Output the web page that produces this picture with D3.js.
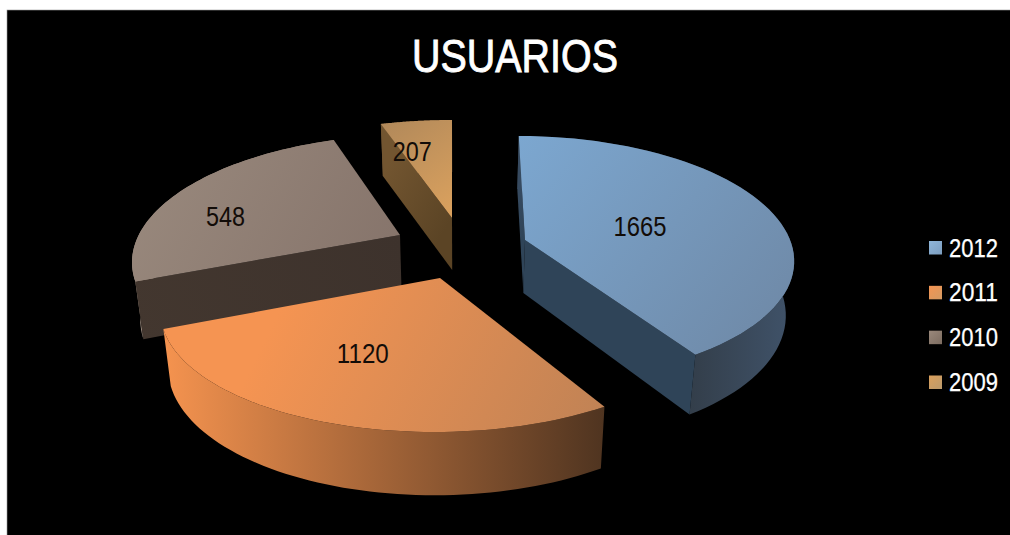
<!DOCTYPE html>
<html><head><meta charset="utf-8">
<script src="https://cdn.jsdelivr.net/npm/d3@7/dist/d3.min.js"></script>
<style>html,body{margin:0;padding:0;background:#fff}svg{display:block}text{font-family:"Liberation Sans",Arial,sans-serif}</style>
</head><body><svg id="c" width="1010" height="535"></svg>
<script>
// ---- data ----
const years = ["2012","2011","2010","2009"];
const users = [1665,1120,548,207];
const chartTitle = "USUARIOS";

// ---- style ----
const topColors  = [["#7ca7d0","#6e87a4"],["#f59452","#bf8255"],["#9a8a7e","#85736a"],["#b0885a","#dca25e"]];
const rimColors  = [["#333e4a","#40536a"],["#f5934f","#4f3420"],["#a39285","#8a7a6d"],["#6b5030","#6b5030"]];
const cutColors  = [["#2f4458","#364a60"],["#000","#000"],["#3d322c","#43372f"],["#5b4425","#725530"]];
const legendColors = [["#8fb6da","#7c9dbf"],["#f59452","#d49a62"],["#9a897c","#7c6c60"],["#dba05c","#bb9a6c"]];

// ---- projection of the tilted pie ----
const svg = d3.select("#c");
const W = 1010, H = 535;
const hub = [460,242], vanishX = 460, shrink = 0.975;
// per-slice view of the rim ellipse
const rxs = [268,278,268,288], rys = [122,122,122,129], cys = [18,32,22,31];
const skews = [0.06,-0.04,0,0], shears = [0,0,-0.02,0];
const explodeOffsets = [[65,-2],[-20,36],[-60,-7],[-8,-24]];
const baseDepth = [53,54,55,52], depthGain = 0.06;
const labelK = [0.45,0.6,0.72,0.7];
const labelNudge = [[-2,-8],[-16,-12],[-9,11],[-16,1]];
const labelWidth = [53,52,39,39];

const arcs = d3.pie().sort(null).value(d=>d)(users);
const boundaries = [0,...arcs.map(a=>a.endAngle)];
const viewDeg = [0,142.4,261,345.7,360];
const viewAngle = d3.scaleLinear().domain(boundaries).range(viewDeg.map(d=>d*Math.PI/180));
const ell = (phi,i) => {
  const x = rxs[i]*Math.sin(phi), y = cys[i]-rys[i]*Math.cos(phi);
  return [x+skews[i]*y, y+shears[i]*x];
};

svg.append("rect").attr("x",0).attr("y",0).attr("width",W).attr("height",H).attr("fill","#fff");
svg.append("rect").attr("x",7).attr("y",10).attr("width",W).attr("height",H).attr("fill","#000").attr("stroke","#999").attr("stroke-width",0.6);

const defs = svg.append("defs");
function grad(id,cols,x1,y1,x2,y2){
  const g = defs.append("linearGradient").attr("id",id).attr("gradientUnits","userSpaceOnUse")
    .attr("x1",x1).attr("y1",y1).attr("x2",x2).attr("y2",y2);
  g.append("stop").attr("offset",0).attr("stop-color",cols[0]);
  g.append("stop").attr("offset",1).attr("stop-color",cols[1]);
  return `url(#${id})`;
}
const line = d3.line();

const slices = arcs.map((a,i)=>{
  const p0 = viewAngle(a.startAngle), p1 = viewAngle(a.endAngle), pm = (p0+p1)/2;
  const apex = [hub[0]+explodeOffsets[i][0], hub[1]+explodeOffsets[i][1]];
  const rim = phi => { const e = ell(phi,i); return [apex[0]+e[0], apex[1]+e[1]]; };
  const low = p => [vanishX+(p[0]-vanishX)*shrink, p[1]+baseDepth[i]+depthGain*Math.max(0,p[1]-apex[1])];
  const rimPts = d3.range(61).map(k=>rim(p0+(p1-p0)*k/60));
  return {i,apex,rim,low,rimPts,pm};
});

// far slices first, nearest last
[3,2,0,1].forEach(i=>{
  const s = slices[i], g = svg.append("g");
  const xs = d3.extent(s.rimPts.concat([s.apex]),d=>d[0]);
  const ys = d3.extent(s.rimPts.concat([s.apex]),d=>d[1]);
  const lowPts = s.rimPts.map(s.low).reverse();
  g.append("path").attr("d",line(s.rimPts.concat(lowPts))+"Z")
    .attr("fill",grad("rim"+i,rimColors[i],i===0?690:xs[0],0,xs[1],0));
  const first = s.rimPts[0], last = s.rimPts[60];
  const addCut = (pt)=>{
    g.append("path").attr("d",line([s.apex,pt,s.low(pt),s.low(s.apex)])+"Z")
      .attr("fill",grad("cut"+i,cutColors[i],s.apex[0],s.apex[1],pt[0],s.low(pt)[1]));
  };
  if(first[0]-s.apex[0] < -1 && last[0]-s.apex[0] < 1) addCut(first);
  if(first[0]-s.apex[0] < 0 && last[0]-s.apex[0] > 1) { addCut(first); addCut(last); }
  const topStart = i===1 ? xs[0]+(xs[1]-xs[0])*0.3 : xs[0];
  g.append("path").attr("d",line([s.apex].concat(s.rimPts))+"Z")
    .attr("fill",grad("top"+i,topColors[i],topStart,ys[0],xs[1],ys[1]));
});

// value labels
slices.forEach(s=>{
  const e = [[260,-13],[-102,145],[-230,-41],[-34,-97]][s.i];
  const x = s.apex[0]+labelK[s.i]*e[0]+labelNudge[s.i][0], y = s.apex[1]+labelK[s.i]*e[1]+labelNudge[s.i][1];
  svg.append("text").attr("x",x).attr("y",y+10).attr("text-anchor","middle")
    .attr("font-size",28).attr("textLength",labelWidth[s.i]).attr("lengthAdjust","spacingAndGlyphs")
    .attr("fill","#120c08").text(users[s.i]);
});

// title
svg.append("text").attr("x",515).attr("y",72).attr("text-anchor","middle")
  .attr("font-size",46).attr("textLength",206).attr("lengthAdjust","spacingAndGlyphs")
  .attr("fill","#fff").attr("stroke","#fff").attr("stroke-width",0.9).text(chartTitle);

// legend
const legendY = d3.scalePoint().domain(years).range([247.5,382]);
years.forEach((y,i)=>{
  const cy = legendY(y);
  svg.append("rect").attr("x",929).attr("y",cy-6.5).attr("width",13).attr("height",13.5)
    .attr("fill",grad("lg"+i,legendColors[i],929,cy-7,942,cy+7));
  svg.append("text").attr("x",949).attr("y",cy+9).attr("font-size",25)
    .attr("textLength",49).attr("lengthAdjust","spacingAndGlyphs")
    .attr("fill","#fff").attr("stroke","#fff").attr("stroke-width",0.25).text(y);
});
</script></body></html>
